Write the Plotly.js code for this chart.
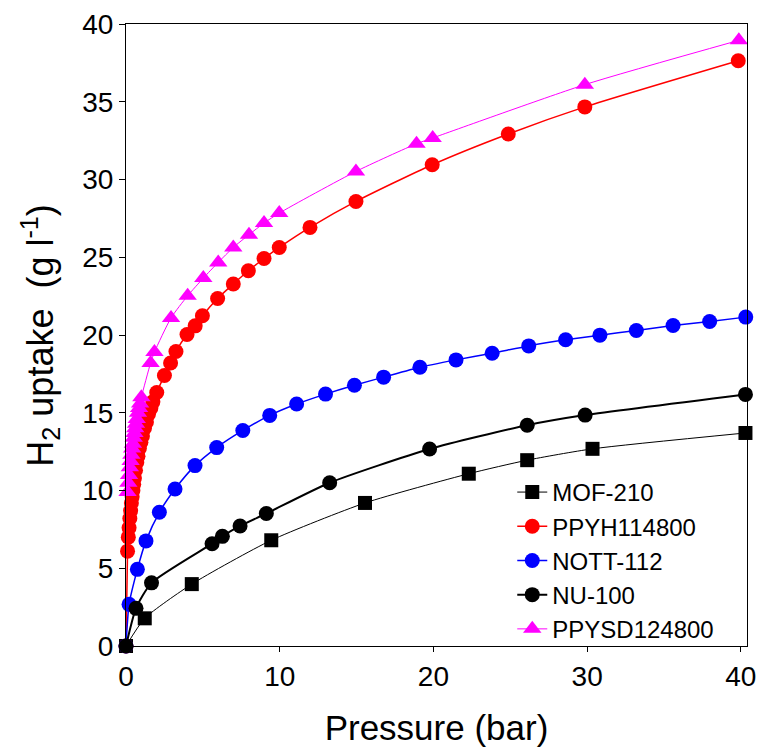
<!DOCTYPE html>
<html>
<head>
<meta charset="utf-8">
<script src="https://cdn.plot.ly/plotly-3.0.1.min.js"></script>
<style>html,body{margin:0;padding:0;background:#fff;}#chart{width:757px;height:753px;}</style>
</head>
<body>
<div id="chart"></div>
<script>
// MOF-210
const mofX = [0, 1.22, 4.28, 9.45, 15.55, 22.3, 26.1, 30.35, 40.3];
const mofY = [0, 1.78, 3.98, 6.8, 9.2, 11.08, 11.95, 12.68, 13.7];
// PPYH114800
const ppyhX = [0, 0.1, 0.15, 0.2, 0.25, 0.3, 0.35, 0.4, 0.45, 0.5, 0.55, 0.62, 0.7, 0.78, 0.87, 0.97, 1.07, 1.2, 1.33, 1.46, 1.62, 1.75, 2.0, 2.5, 2.9, 3.25, 3.97, 4.5, 4.97, 5.96, 6.98, 7.96, 8.98, 9.97, 11.97, 14.96, 19.92, 24.87, 29.85, 39.83];
const ppyhY = [0, 6.1, 7.0, 7.6, 8.2, 8.7, 9.2, 9.6, 10.0, 10.4, 10.8, 11.3, 11.8, 12.2, 12.7, 13.1, 13.5, 14.0, 14.4, 14.9, 15.3, 15.7, 16.3, 17.4, 18.2, 18.94, 20.03, 20.59, 21.24, 22.35, 23.28, 24.13, 24.92, 25.63, 26.92, 28.59, 30.95, 32.93, 34.67, 37.64];
// NOTT-112
const nottX = [0, 0.2, 0.74, 1.3, 2.17, 3.19, 4.49, 5.9, 7.6, 9.35, 11.1, 12.98, 14.86, 16.76, 19.12, 21.47, 23.82, 26.2, 28.6, 30.83, 33.2, 35.59, 37.97, 40.32];
const nottY = [0, 2.68, 4.93, 6.76, 8.6, 10.1, 11.6, 12.76, 13.86, 14.83, 15.56, 16.2, 16.77, 17.29, 17.93, 18.4, 18.83, 19.3, 19.69, 19.99, 20.29, 20.61, 20.87, 21.15];
// NU-100
const nuX = [0, 0.65, 1.66, 5.6, 6.27, 7.42, 9.13, 13.25, 19.75, 26.1, 29.87, 40.3];
const nuY = [0, 2.42, 4.06, 6.58, 7.05, 7.72, 8.52, 10.5, 12.67, 14.2, 14.85, 16.18];
// PPYSD124800
const ppysdX = [0.1, 0.15, 0.2, 0.25, 0.3, 0.35, 0.4, 0.45, 0.5, 0.55, 0.6, 0.65, 0.7, 0.78, 0.85, 0.92, 1.0, 1.6, 1.85, 2.93, 4.01, 5.03, 6.0, 6.98, 8.0, 8.98, 9.97, 14.96, 18.9, 19.95, 29.85, 39.87];
const ppysdY = [9.9, 10.5, 11.0, 11.5, 11.9, 12.3, 12.7, 13.0, 13.4, 13.7, 14.0, 14.3, 14.6, 15.0, 15.3, 15.6, 16.0, 18.2, 18.9, 21.1, 22.52, 23.66, 24.67, 25.63, 26.45, 27.2, 27.84, 30.52, 32.3, 32.67, 36.1, 38.95];

const xTicks = [0, 10, 20, 30, 40];
const yTicks = [0, 5, 10, 15, 20, 25, 30, 35, 40];

const FONT = 'Liberation Sans, Arial, sans-serif';

function tr(name, x, y, color, lw, symbol, msize) {
  return {
    type: 'scatter', mode: 'lines+markers', name: name, x: x, y: y,
    line: {color: color, width: lw, shape: 'spline', smoothing: 0.6},
    marker: {color: color, symbol: symbol, size: msize, line: {width: 0}},
    cliponaxis: false
  };
}

const data = [
  tr('MOF-210', mofX, mofY, '#000000', 1, 'square', 14),
  tr('PPYH114800', ppyhX, ppyhY, '#ff0000', 1.5, 'circle', 15),
  tr('NOTT-112', nottX, nottY, '#0000ff', 1.5, 'circle', 15),
  tr('NU-100', nuX, nuY, '#000000', 2, 'circle', 15),
  tr('PPYSD124800', ppysdX, ppysdY, '#ff00ff', 1, 'triangle-up', 16)
];

const layout = {
  width: 757, height: 753,
  margin: {l: 126, r: 10, t: 24, b: 107},
  paper_bgcolor: '#ffffff', plot_bgcolor: '#ffffff',
  font: {family: FONT, color: '#000', size: 28},
  showlegend: true,
  legend: {
    x: 0.622, y: 0.283, xanchor: 'left', yanchor: 'top',
    bgcolor: 'rgba(0,0,0,0)', borderwidth: 0,
    font: {family: FONT, size: 24, color: '#000'},
    tracegroupgap: 0, itemwidth: 30
  },
  xaxis: {
    range: [0, 40.4], tickvals: xTicks, ticktext: xTicks.map(String),
    ticks: 'outside', ticklen: 5, tickwidth: 1, tickcolor: '#000',
    showline: true, linecolor: '#000', linewidth: 1, mirror: true,
    showgrid: false, zeroline: false,
    tickfont: {family: FONT, size: 28},
    title: {text: 'Pressure (bar)', font: {family: FONT, size: 35}, standoff: 24}
  },
  yaxis: {
    range: [0, 40], tickvals: yTicks, ticktext: yTicks.map(String),
    ticks: 'outside', ticklen: 6, tickwidth: 1, tickcolor: '#000',
    showline: true, linecolor: '#000', linewidth: 1, mirror: true,
    showgrid: false, zeroline: false,
    tickfont: {family: FONT, size: 28}
  },
  annotations: [{
    text: 'H<sub>2</sub> uptake  (g l<sup>-1</sup>)',
    xref: 'paper', yref: 'paper', x: -0.139, y: 0.5,
    xanchor: 'center', yanchor: 'middle', textangle: -90, showarrow: false,
    font: {family: FONT, size: 36, color: '#000'}
  }]
};

Plotly.newPlot('chart', data, layout, {displayModeBar: false, staticPlot: true});
</script>
</body>
</html>
